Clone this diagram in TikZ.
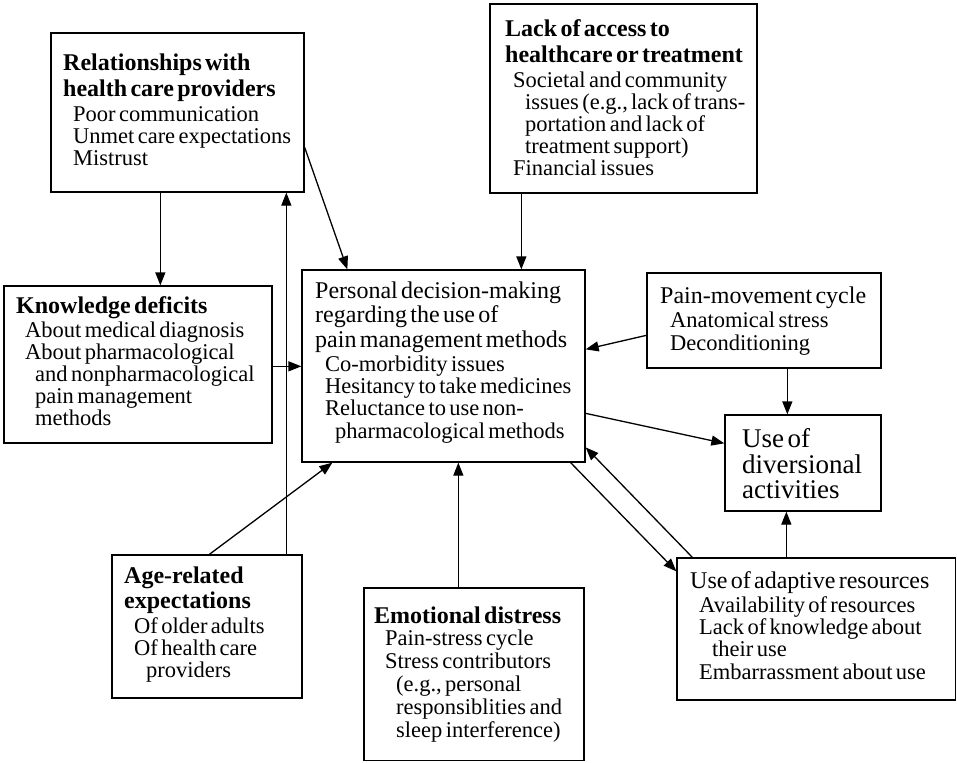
\documentclass[tikz,border=0pt]{standalone}
\usepackage{fontspec}
\setmainfont[WordSpace=1.2]{Liberation Serif}
\usetikzlibrary{arrows.meta,calc,fit}
\newcommand\hb[1]{\fontsize{24}{#1}\selectfont\bfseries}
\newcommand\hr[1]{\fontsize{24}{#1}\selectfont}
\newcommand\hD[1]{\fontsize{27}{#1}\selectfont}
\newcommand\bd[1]{\fontsize{22.5}{#1}\selectfont}
\newcommand\TL[4]{{#1{#3}\hspace*{#2pt}#4\par}}
\tikzset{
  box/.style={draw, line width=1.3pt, inner sep=0pt},
  txt/.style={anchor=base west, inner sep=0pt, text width=320pt, align=left},
  arr/.style={line width=1.3pt, -{Triangle[length=13pt,width=10pt]}}
}
\begin{document}
\begin{tikzpicture}[x=1pt,y=-1pt]
\useasboundingbox (0,0) rectangle (957,762);
\fill[white] (0,0) rectangle (957,762);

% boxes
\node[box, fit={(51,33) (304,192)}] (R) {};
\node[box, fit={(490,4) (757,193)}] (L) {};
\node[box, fit={(4,286) (272,443)}] (K) {};
\node[box, fit={(302,270) (585,462)}] (P) {};
\node[box, fit={(647,273) (881,368)}] (M) {};
\node[box, fit={(725,415) (881,511)}] (D) {};
\node[box, fit={(677,558) (955.5,700)}] (A) {};
\node[box, fit={(112,555) (302,698)}] (G) {};
\node[box, fit={(364,588) (584,760.5)}] (E) {};

% texts
\node[txt] (Rt) at (63,71) {%
\TL\hb{0}{26}{Relationships with}
\TL\hb{0}{26}{health care providers}
\TL\bd{10}{25}{Poor communication}
\TL\bd{10}{22}{Unmet care expectations}
\TL\bd{10}{22}{Mistrust}};

\node[txt] (Lt) at (505,37) {%
\TL\hb{0}{26}{Lack of access to}
\TL\hb{0}{26}{healthcare or treatment}
\TL\bd{8}{25}{Societal and community}
\TL\bd{20}{22}{issues (e.g., lack of trans-}
\TL\bd{20}{22}{portation and lack of}
\TL\bd{20}{22}{treatment support)}
\TL\bd{8}{22}{Financial issues}};

\node[txt] (Kt) at (16,313) {%
\TL\hb{0}{26}{Knowledge deficits}
\TL\bd{9}{24}{About medical diagnosis}
\TL\bd{9}{22.5}{About pharmacological}
\TL\bd{19}{22}{and nonpharmacological}
\TL\bd{19}{22}{pain management}
\TL\bd{19}{22}{methods}};

\node[txt] (Pt) at (315,298) {%
\TL\hr{0}{25}{Personal decision-making}
\TL\hr{0}{24.5}{regarding the use of}
\TL\hr{0}{24.5}{pain management methods}
\TL\bd{10}{24}{Co-morbidity issues}
\TL\bd{10}{22}{Hesitancy to take medicines}
\TL\bd{10}{22}{Reluctance to use non-}
\TL\bd{20}{23}{pharmacological methods}};

\node[txt] (Mt) at (660,303) {%
\TL\hr{0}{25}{Pain-movement cycle}
\TL\bd{10}{24}{Anatomical stress}
\TL\bd{10}{23}{Deconditioning}};

\node[txt] (Dt) at (742,447) {%
\TL\hD{0}{26}{Use of}
\TL\hD{0}{26}{diversional}
\TL\hD{0}{25}{activities}};

\node[txt] (At) at (690,588) {%
\TL\hr{0}{25}{Use of adaptive resources}
\TL\bd{9}{24}{Availability of resources}
\TL\bd{9}{22}{Lack of knowledge about}
\TL\bd{22}{22}{their use}
\TL\bd{9}{23}{Embarrassment about use}};

\node[txt] (Gt) at (124,583) {%
\TL\hb{0}{25}{Age-related}
\TL\hb{0}{25}{expectations}
\TL\bd{10}{25}{Of older adults}
\TL\bd{10}{22}{Of health care}
\TL\bd{22}{22}{providers}};

\node[txt] (Et) at (374,623) {%
\TL\hb{0}{25}{Emotional distress}
\TL\bd{11}{22.5}{Pain-stress cycle}
\TL\bd{11}{23}{Stress contributors}
\TL\bd{22}{23}{(e.g., personal}
\TL\bd{22}{22.5}{responsiblities and}
\TL\bd{22}{23.5}{sleep interference)}};

% connectors
\draw[arr] ($(R.south west)+(110,0)$) coordinate (r1) -- (r1 |- K.north);
\draw[arr] ($(G.north west)+(175,0)$) coordinate (g1) -- (g1 |- R.south);
\draw[arr] ($(R.north east)+(0,115)$) -- ($(P.north west)+(46,0)$);
\draw[arr] ($(L.south west)+(32,0)$) coordinate (l1) -- (l1 |- P.north);
\draw[arr] ($(K.north east)+(0,81)$) coordinate (k1) -- (k1 -| P.west);
\draw[arr] ($(G.north west)+(98,0)$) -- ($(P.south west)+(31,0)$);
\draw[arr] ($(E.north west)+(95,0)$) coordinate (e1) -- (e1 |- P.south);
\draw[arr] ($(M.north west)+(0,63)$) -- ($(P.north east)+(0,80)$);
\draw[arr] ($(M.south west)+(141,0)$) coordinate (m1) -- (m1 |- D.north);
\draw[arr] ($(P.north east)+(0,144)$) -- ($(D.north west)+(0,29)$);
\draw[arr] ($(P.south east)+(-15,0)$) -- ($(A.north west)+(0,14)$);
\draw[arr] ($(A.north west)+(16,0)$) -- ($(P.north east)+(0,178)$);
\draw[arr] ($(A.north west)+(110,0)$) coordinate (a1) -- (a1 |- D.south);
\end{tikzpicture}
\end{document}
